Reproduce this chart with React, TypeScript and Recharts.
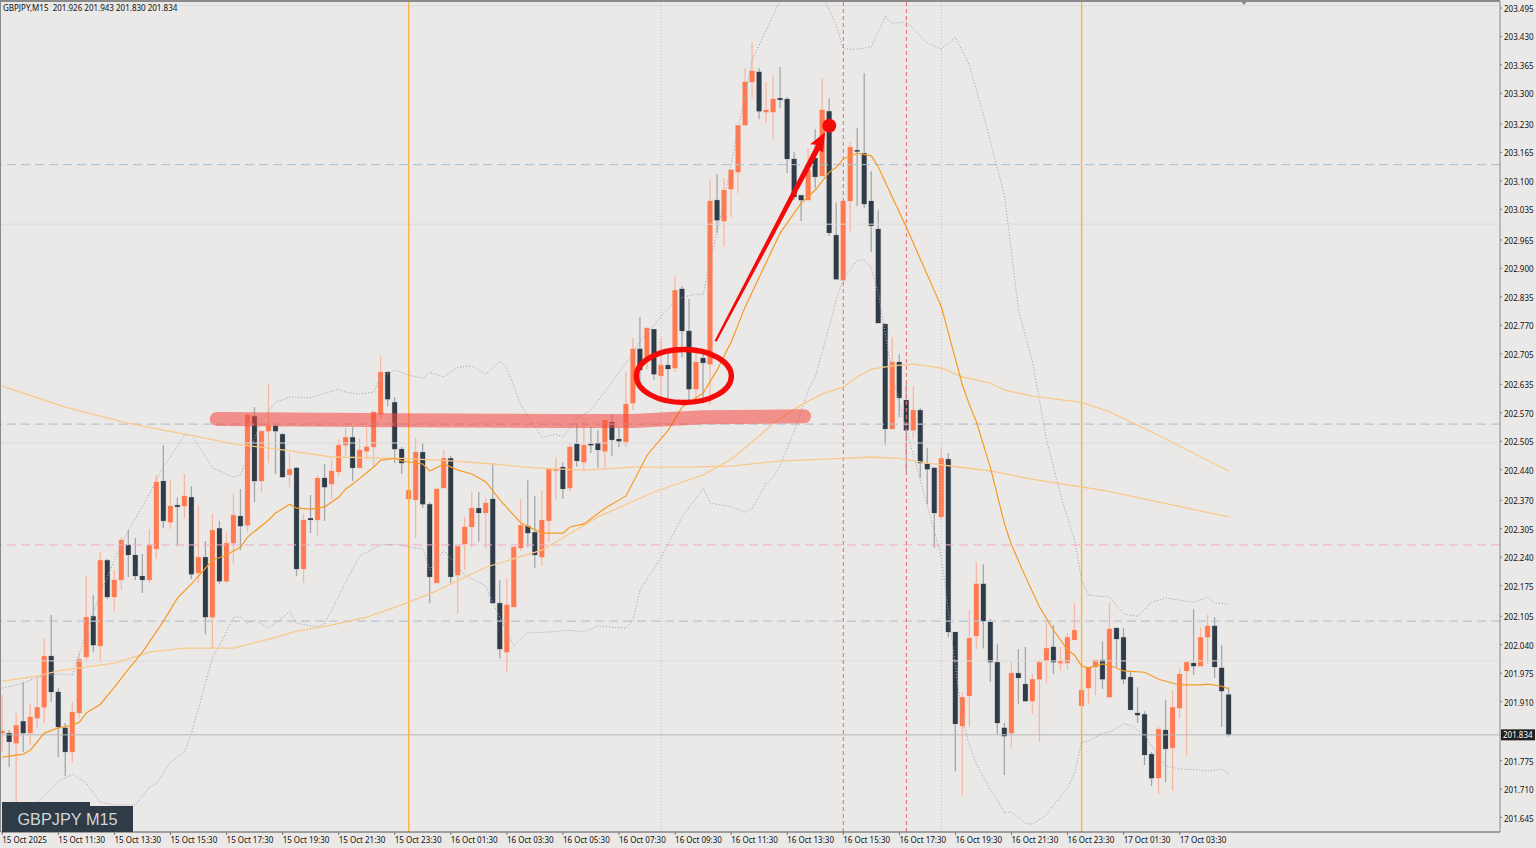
import React from 'react';
import { ComposedChart, Bar, Line, XAxis, YAxis, ReferenceLine, ReferenceDot } from 'recharts';

const opens = [201.838,201.838,201.815,201.865,201.838,201.872,201.897,202.014,201.932,201.850,201.795,201.884,202.012,202.105,202.037,202.233,202.149,202.188,202.268,202.245,202.197,202.188,202.259,202.414,202.320,202.359,202.357,202.377,202.204,202.240,202.103,202.306,202.185,202.272,202.334,202.313,202.562,202.414,202.528,202.540,202.521,202.428,202.444,202.213,202.329,202.325,202.421,202.407,202.435,202.496,202.514,202.444,202.482,202.492,202.567,202.663,202.594,202.487,202.373,202.371,202.480,202.361,202.181,202.398,202.466,202.199,202.270,202.309,202.352,202.341,202.373,202.135,202.023,202.126,202.261,202.311,202.297,202.240,202.323,202.439,202.446,202.398,202.499,202.457,202.499,202.501,202.482,202.549,202.510,202.503,202.592,202.716,202.697,202.761,202.654,202.679,202.672,202.853,202.757,202.624,202.695,202.681,203.056,203.008,203.081,203.120,203.227,203.326,203.349,203.257,203.257,203.289,203.287,203.150,203.067,203.056,203.152,203.111,203.259,202.976,202.873,203.054,203.170,203.163,203.054,202.990,202.773,202.533,202.686,202.599,202.530,202.576,202.453,202.444,202.332,202.464,202.069,201.854,201.923,202.060,202.179,202.092,202.000,201.850,201.838,201.975,201.950,201.911,201.961,202.003,202.035,201.998,201.998,202.051,201.900,201.941,201.989,202.005,201.920,202.078,202.057,201.966,201.884,201.881,201.790,201.735,201.845,201.804,201.895,201.980,201.998,201.991,202.057,202.083,201.987,201.926];
const highs = [201.925,201.845,201.884,201.955,201.904,201.966,202.055,202.108,201.941,201.861,201.909,202.021,202.197,202.153,202.252,202.236,202.211,202.286,202.302,202.284,202.247,202.304,202.428,202.496,202.416,202.377,202.430,202.402,202.359,202.277,202.339,202.323,202.297,202.384,202.396,202.567,202.583,202.530,202.636,202.542,202.524,202.478,202.446,202.339,202.382,202.428,202.453,202.464,202.510,202.535,202.537,202.512,202.537,202.572,202.700,202.665,202.606,202.492,202.398,202.512,202.501,202.366,202.396,202.485,202.471,202.265,202.332,202.389,202.389,202.377,202.455,202.188,202.192,202.268,202.373,202.416,202.380,202.393,202.441,202.469,202.457,202.501,202.546,202.558,202.537,202.530,202.553,202.565,202.535,202.663,202.741,202.789,202.764,202.761,202.741,202.706,202.882,202.860,202.830,202.720,202.706,203.104,203.115,203.106,203.125,203.227,203.358,203.417,203.358,203.326,203.342,203.360,203.291,203.166,203.067,203.175,203.218,203.335,203.289,203.051,203.054,203.189,203.221,203.346,203.122,203.033,202.773,202.743,202.704,202.636,202.631,202.581,202.489,202.446,202.489,202.478,202.069,201.932,202.119,202.229,202.224,202.099,202.041,201.861,202.000,202.030,202.035,201.973,202.005,202.090,202.085,202.035,202.067,202.135,201.959,201.989,202.005,202.048,202.137,202.080,202.078,201.980,201.943,201.888,201.795,201.852,201.914,201.936,201.987,202.000,202.121,202.080,202.108,202.103,202.039,201.943];
const lows = [201.795,201.760,201.674,201.795,201.811,201.850,201.861,201.909,201.783,201.740,201.770,201.872,202.000,202.023,202.000,202.144,202.117,202.165,202.195,202.188,202.158,202.181,202.236,202.306,202.304,202.265,202.329,202.190,202.181,202.064,202.032,202.179,202.181,202.224,202.256,202.297,202.366,202.389,202.455,202.430,202.421,202.400,202.197,202.181,202.295,202.288,202.323,202.373,202.425,202.471,202.414,202.444,202.464,202.446,202.556,202.585,202.455,202.430,202.364,202.284,202.352,202.135,202.181,202.398,202.181,202.112,202.211,202.263,202.275,202.259,202.135,202.009,201.978,202.126,202.254,202.263,202.215,202.220,202.275,202.371,202.373,202.391,202.446,202.437,202.478,202.444,202.444,202.471,202.492,202.492,202.576,202.633,202.668,202.645,202.594,202.604,202.663,202.697,202.599,202.599,202.592,202.588,202.981,202.949,203.017,203.072,203.227,203.289,203.241,203.232,203.195,203.266,203.118,203.056,203.008,203.056,203.083,203.111,202.974,202.875,202.873,202.983,203.042,203.038,202.937,202.775,202.496,202.533,202.560,202.435,202.510,202.421,202.361,202.261,202.325,202.057,201.751,201.696,201.852,202.030,202.032,201.955,201.834,201.742,201.806,201.904,201.911,201.881,201.818,201.952,201.973,201.980,201.984,202.051,201.900,201.904,201.925,201.939,201.920,201.989,201.950,201.891,201.861,201.765,201.717,201.699,201.726,201.706,201.872,201.786,201.971,201.991,201.996,201.964,201.852,201.830];
const closes = [201.843,201.818,201.856,201.838,201.875,201.897,202.014,201.932,201.852,201.795,201.886,202.007,202.103,202.039,202.233,202.149,202.188,202.279,202.245,202.197,202.188,202.268,202.412,202.323,202.357,202.355,202.380,202.201,202.240,202.103,202.302,202.185,202.272,202.336,202.311,202.565,202.414,202.528,202.540,202.528,202.423,202.441,202.213,202.325,202.325,202.421,202.400,202.437,202.496,202.514,202.444,202.485,202.492,202.572,202.663,202.601,202.487,202.455,202.393,202.480,202.361,202.195,202.396,202.466,202.195,202.265,202.309,202.352,202.341,202.364,202.135,202.030,202.131,202.263,202.313,202.295,202.245,202.325,202.441,202.441,202.396,202.492,202.460,202.496,202.496,202.485,202.553,202.508,202.505,202.590,202.716,202.668,202.764,202.658,202.679,202.670,202.850,202.757,202.624,202.686,202.684,203.054,203.010,203.079,203.125,203.227,203.326,203.351,203.259,203.262,203.287,203.285,203.150,203.063,203.056,203.125,203.109,203.262,202.981,202.875,203.054,203.177,203.168,203.047,202.997,202.775,202.533,202.686,202.604,202.530,202.576,202.455,202.441,202.341,202.466,202.069,201.859,201.920,202.055,202.179,202.094,202.000,201.861,201.831,201.975,201.964,201.911,201.961,202.000,202.032,202.000,202.003,202.057,202.073,201.936,201.989,202.005,201.961,202.076,202.053,201.961,201.891,201.879,201.788,201.735,201.847,201.802,201.897,201.973,202.000,201.991,202.057,202.083,201.989,201.934,201.834];

const ema20: number[][] = [[0,201.783],[3,201.790],[4,201.799],[6,201.838],[8,201.850],[10,201.856],[11,201.863],[12,201.884],[14,201.904],[16,201.943],[18,201.984],[20,202.023],[23,202.094],[25,202.147],[27,202.179],[30,202.233],[32,202.245],[34,202.263],[35,202.286],[38,202.325],[39,202.341],[41,202.361],[42,202.352],[44,202.350],[46,202.355],[48,202.377],[49,202.396],[50,202.407],[53,202.446],[54,202.462],[56,202.466],[57,202.460],[60,202.453],[61,202.437],[63,202.453],[65,202.439],[67,202.430],[69,202.412],[71,202.371],[74,202.318],[77,202.295],[80,202.295],[81,202.309],[83,202.316],[86,202.352],[89,202.380],[92,202.473],[95,202.530],[97,202.583],[100,202.615],[102,202.668],[104,202.732],[106,202.812],[111,202.981],[114,203.049],[116,203.079],[118,203.120],[119,203.131],[120,203.150],[122,203.163],[124,203.157],[125,203.131],[129,202.994],[133,202.848],[134,202.812],[137,202.633],[138,202.588],[139,202.549],[141,202.444],[143,202.316],[144,202.268],[146,202.195],[148,202.126],[150,202.073],[152,202.028],[153,202.016],[154,201.991],[155,201.987],[157,201.996],[158,201.993],[160,201.980],[163,201.977],[165,201.961],[168,201.948],[171,201.948],[172,201.950],[174,201.945],[175,201.939]];
const maSlow: number[][] = [[0,202.631],[9,202.583],[18,202.546],[26,202.521],[33,202.499],[40,202.485],[47,202.469],[57,202.466],[64,202.460],[70,202.453],[76,202.444],[83,202.439],[90,202.446],[97,202.446],[104,202.448],[111,202.460],[120,202.466],[124,202.469],[128,202.466],[132,202.455],[141,202.437],[147,202.418],[157,202.393],[175,202.332]];
const maMid: number[][] = [[0,201.957],[5,201.968],[8,201.980],[11,201.987],[16,201.998],[21,202.023],[26,202.032],[33,202.032],[39,202.057],[42,202.071],[47,202.085],[52,202.103],[57,202.131],[61,202.156],[69,202.217],[77,202.256],[85,202.332],[93,202.389],[100,202.428],[104,202.464],[107,202.503],[110,202.546],[114,202.588],[117,202.613],[120,202.629],[122,202.652],[124,202.670],[127,202.677],[130,202.681],[134,202.672],[137,202.652],[141,202.638],[143,202.622],[147,202.608],[154,202.594],[158,202.572],[164,202.526],[175,202.437]];
const bbUpper: number[][] = [[0,201.941],[3,201.952],[5,201.966],[8,201.973],[10,201.971],[11,202.021],[14,202.158],[16,202.233],[18,202.302],[20,202.355],[23,202.446],[26,202.519],[27,202.519],[29,202.469],[30,202.444],[33,202.423],[34,202.428],[35,202.469],[37,202.553],[39,202.594],[41,202.606],[44,202.604],[48,202.624],[49,202.617],[51,202.613],[53,202.617],[54,202.652],[56,202.668],[58,202.656],[60,202.649],[61,202.663],[63,202.652],[65,202.674],[67,202.677],[69,202.658],[71,202.688],[72,202.672],[74,202.588],[77,202.514],[79,202.521],[80,202.514],[82,202.558],[84,202.576],[87,202.640],[90,202.706],[91,202.734],[93,202.770],[94,202.791],[96,202.825],[97,202.834],[99,202.841],[100,202.839],[101,202.914],[103,203.056],[105,203.221],[107,203.376],[111,203.513],[113,203.559],[116,203.559],[118,203.490],[119,203.456],[120,203.401],[122,203.401],[124,203.406],[126,203.476],[127,203.460],[129,203.463],[132,203.415],[134,203.401],[136,203.428],[138,203.364],[140,203.250],[143,203.067],[145,202.805],[147,202.686],[149,202.508],[151,202.382],[153,202.279],[154,202.188],[155,202.153],[158,202.149],[160,202.110],[162,202.105],[164,202.137],[166,202.147],[170,202.137],[172,202.149],[173,202.135],[175,202.133]];
const bbLower: number[][] = [[4,201.667],[5,201.680],[8,201.728],[10,201.744],[12,201.724],[13,201.701],[14,201.680],[16,201.674],[19,201.674],[21,201.715],[22,201.722],[24,201.772],[26,201.795],[27,201.838],[28,201.895],[30,202.012],[31,202.039],[33,202.103],[34,202.103],[35,202.089],[36,202.096],[38,202.078],[41,202.115],[42,202.089],[45,202.080],[46,202.089],[47,202.119],[49,202.183],[51,202.243],[54,202.268],[56,202.270],[58,202.263],[60,202.259],[61,202.211],[63,202.256],[66,202.199],[69,202.174],[70,202.135],[73,202.037],[75,202.067],[78,202.069],[81,202.073],[83,202.069],[85,202.083],[87,202.080],[89,202.078],[90,202.096],[91,202.165],[94,202.240],[97,202.332],[99,202.375],[100,202.398],[101,202.364],[104,202.355],[106,202.343],[107,202.352],[109,202.409],[110,202.423],[111,202.450],[113,202.528],[115,202.622],[116,202.652],[118,202.768],[119,202.828],[120,202.875],[122,202.919],[123,202.919],[124,202.901],[125,202.843],[127,202.656],[129,202.530],[131,202.416],[134,202.240],[135,202.112],[136,201.991],[137,201.868],[138,201.811],[139,201.767],[141,201.708],[142,201.685],[143,201.655],[144,201.658],[146,201.632],[147,201.630],[149,201.651],[150,201.674],[152,201.712],[153,201.747],[154,201.818],[155,201.820],[157,201.838],[158,201.840],[160,201.859],[161,201.856],[163,201.834],[164,201.808],[166,201.763],[168,201.756],[171,201.754],[172,201.751],[174,201.756],[175,201.744]];
const zoneBand: number[][] = [[30.6,202.556],[57,202.553],[80,202.551],[90,202.551],[100,202.560],[114.4,202.562]];

const priceTicks = [203.495,203.43,203.365,203.3,203.23,203.165,203.1,203.035,202.965,202.9,202.835,202.77,202.705,202.635,202.57,202.505,202.44,202.37,202.305,202.24,202.175,202.105,202.04,201.975,201.91,201.834,201.775,201.71,201.645];
const lastPrice = 201.834;
const timeLabels = ['15 Oct 2025','15 Oct 11:30','15 Oct 13:30','15 Oct 15:30','15 Oct 17:30','15 Oct 19:30','15 Oct 21:30','15 Oct 23:30','16 Oct 01:30','16 Oct 03:30','16 Oct 05:30','16 Oct 07:30','16 Oct 09:30','16 Oct 11:30','16 Oct 13:30','16 Oct 15:30','16 Oct 17:30','16 Oct 19:30','16 Oct 21:30','16 Oct 23:30','17 Oct 01:30','17 Oct 03:30'];
const timeTicks = timeLabels.map((_, k) => k * 8);
const dashedBlue = 203.137;
const dashedGrey = [202.544, 202.094];
const dashedPink = 202.268;
const solidLevels = [203.5, 203.001, 202.501, 202.003];
const orangeVerticals = [58, 154];
const dottedVerticals = [94, 134];
const redVerticals = [120, 129];

const rows = opens.map((o, i) => ({ i, o, h: highs[i], l: lows[i], c: closes[i] }));
const knots = (a: number[][]) => a.map(([i, v]) => ({ i, v }));

const FONT = '"Noto Sans", sans-serif';
const UP = '#ff7a50';
const DOWN = '#2f3b47';

function Candle(props: any) {
  const { x, y, width, height, payload } = props;
  const { o, h, l, c } = payload;
  const py = (v: number) => y + ((h - v) / (h - l)) * height;
  const up = c >= o;
  const top = py(Math.max(o, c));
  const bot = py(Math.min(o, c));
  const cx = x + width / 2;
  return (
    <g>
      <line x1={cx} x2={cx} y1={y} y2={y + height} stroke={up ? '#f7b8a2' : '#a3a7aa'} strokeWidth={1.3} />
      <rect x={cx - 2.9} y={top - 0.4} width={5.8} height={Math.max(bot - top, 1) + 0.8} fill={up ? '#ffb8a0' : '#a9adb0'} opacity={0.6} />
      <rect x={cx - 2.4} y={top} width={4.8} height={Math.max(bot - top, 1.4)} fill={up ? UP : DOWN} />
    </g>
  );
}

function PriceTick(props: any) {
  const { y, payload } = props;
  const isLast = payload.value === lastPrice;
  return (
    <g>
      {isLast ? (
        <g>
          <rect x={1501} y={y - 5.5} width={34} height={11} fill="#1f1f1f" />
          <text x={1503} y={y + 3} fontSize={8} fontFamily={FONT} fill="#fff">{payload.value.toFixed(3)}</text>
        </g>
      ) : (
        <g>
          <line x1={1500} x2={1502} y1={y} y2={y} stroke="#777" />
          <text x={1504} y={y + 4} fontSize={8} fontFamily={FONT} fill="#111">{payload.value.toFixed(3)}</text>
        </g>
      )}
    </g>
  );
}

function TimeTick(props: any) {
  const { x, payload, index } = props;
  return (
    <g>
      <line x1={x} x2={x} y1={832} y2={835} stroke="#777" />
      <text x={x} y={842.5} fontSize={8} fontFamily={FONT} fill="#111">{timeLabels[index ?? payload.index]}</text>
    </g>
  );
}

const Ellipse = (p: any) => <ellipse cx={p.cx} cy={p.cy} rx={47.5} ry={26.5} fill="none" stroke="#f50a0a" strokeWidth={5.4} />;
const Arrow = (p: any) => {
  const tx = p.cx, ty = p.cy;
  const pts = [[0,0],[-15,12],[-9,12.5],[-110.5,208.5],[-108.5,209.5],[-5.5,18],[-2,20]].map(([a, b]) => `${tx + a},${ty + b}`).join(' ');
  return <polygon points={pts} fill="#f50a0a" />;
};

export default function App() {
  return (
    <div style={{ position: 'fixed', left: 0, top: 0, width: 1536, height: 848, background: '#ebe9e8', overflow: 'hidden' }}>
      <ComposedChart width={1536} height={848} data={rows} margin={{ top: 1, right: 0, bottom: 0, left: 1 }}>
        <XAxis dataKey="i" type="number" domain={[-0.186, 213.7]} allowDataOverflow ticks={timeTicks} tick={<TimeTick />} tickLine={false} axisLine={{ stroke: '#555' }} height={16} interval={0} />
        <YAxis orientation="right" type="number" domain={[201.612, 203.511]} allowDataOverflow ticks={priceTicks} tick={<PriceTick />} tickLine={false} axisLine={{ stroke: '#888' }} width={36} interval={0} />
        {solidLevels.map((v) => <ReferenceLine key={v} y={v} stroke="#dcdbda" />)}
        <ReferenceLine y={lastPrice} stroke="#b8b8b8" />
        <ReferenceLine y={dashedBlue} stroke="#9fc0da" strokeDasharray="9 5" />
        {dashedGrey.map((v) => <ReferenceLine key={v} y={v} stroke="#b6c4d4" strokeDasharray="9 5" strokeWidth={1.3} />)}
        <ReferenceLine y={dashedPink} stroke="#f5a8c8" strokeDasharray="9 5" />
        {orangeVerticals.map((v) => <ReferenceLine key={v} x={v} stroke="#f9b341" strokeWidth={1.4} />)}
        {dottedVerticals.map((v) => <ReferenceLine key={v} x={v} stroke="#c0c0c0" strokeDasharray="1 2" />)}
        {redVerticals.map((v) => <ReferenceLine key={v} x={v} stroke="#f07070" strokeWidth={1.1} strokeDasharray="4 3" />)}
        <Line data={knots(bbUpper)} dataKey="v" dot={false} stroke="#a5a5b5" strokeWidth={1} strokeDasharray="1.2 1.8" isAnimationActive={false} />
        <Line data={knots(bbLower)} dataKey="v" dot={false} stroke="#a5a5b5" strokeWidth={1} strokeDasharray="1.2 1.8" isAnimationActive={false} />
        <Bar dataKey={(d: any) => [d.l, d.h]} barSize={5} shape={<Candle />} isAnimationActive={false} />
        <Line data={knots(maSlow)} dataKey="v" dot={false} stroke="#f8c98a" strokeWidth={1.3} isAnimationActive={false} />
        <Line data={knots(maMid)} dataKey="v" dot={false} stroke="#f8c98a" strokeWidth={1.3} isAnimationActive={false} />
        <Line data={knots(ema20)} dataKey="v" dot={false} stroke="#f59b23" strokeWidth={1.2} isAnimationActive={false} />
        <Line data={knots(zoneBand)} dataKey="v" dot={false} stroke="#f6463c" strokeOpacity={0.55} strokeWidth={14} strokeLinecap="round" isAnimationActive={false} />
        <ReferenceDot x={97.25} y={202.654} r={1} shape={Ellipse} />
        <ReferenceDot x={117.4} y={203.211} r={1} shape={Arrow} />
        <ReferenceDot x={118} y={203.226} r={7} fill="#f50a0a" stroke="none" />
      </ComposedChart>
      <div style={{ position: 'absolute', left: 0, top: 0, width: 1500, height: 832, borderLeft: '1px solid #8a8a8a', borderTop: '2px solid #8a8a8a', boxSizing: 'border-box', pointerEvents: 'none' }} />
      <div style={{ position: 'absolute', left: 3, top: 2, font: `8px ${FONT}`, color: '#111', whiteSpace: 'pre' }}>GBPJPY,M15  201.926 201.943 201.830 201.834</div>
      <div style={{ position: 'absolute', left: 1240, top: 0, width: 0, height: 0, borderLeft: '4px solid transparent', borderRight: '4px solid transparent', borderTop: '5px solid #8a8a8a' }} />
      <div style={{ position: 'absolute', left: 2, top: 802, width: 88, height: 6, background: '#2f3b47' }} />
      <div style={{ position: 'absolute', left: 2, top: 806, width: 131, height: 26, background: '#2f3b47', color: '#d3d6d8', font: '16.3px "Liberation Sans", sans-serif', lineHeight: '27px', textAlign: 'center' }}>GBPJPY M15</div>
    </div>
  );
}
